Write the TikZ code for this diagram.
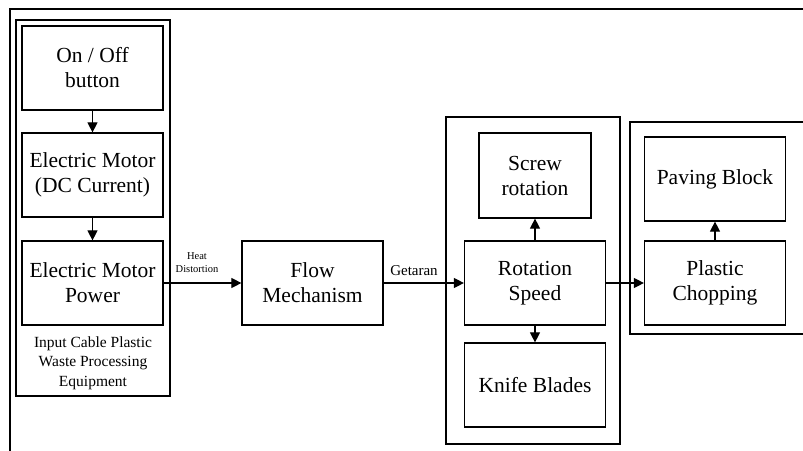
\documentclass[tikz,border=0pt]{standalone}
\usepackage{fontspec}
\setmainfont{Liberation Serif}
\usetikzlibrary{arrows.meta}
\begin{document}
\begin{tikzpicture}[x=1pt,y=-1pt,
  box/.style={draw,line width=1.2pt,inner sep=0pt,align=center,
    font=\fontsize{21.5}{25}\selectfont,minimum width=141pt,minimum height=84pt},
  grp/.style={draw,line width=1.2pt,inner sep=0pt},
  frame/.style={line width=1.2pt},
  arr/.style={line width=1.1pt,-{Triangle[length=10pt,width=10pt]}},
  lbl/.style={inner sep=0pt,align=center}]
\useasboundingbox (0,0) rectangle (803,450);
\clip (0,0) rectangle (803,450);
% outer frame (partly outside the picture)
\draw[frame] (10,460) -- (10,9) -- (815,9);
% group boxes
\node[grp,minimum width=154pt,minimum height=376pt] (g1) at (93,208) {};
\node[grp,minimum width=174pt,minimum height=327pt] (g2) at (533,280.5) {};
\draw[frame] (815,122) -- (630,122) -- (630,334) -- (815,334);
% boxes
\node[box] (onoff) at (92.5,68) {On / Off\\button};
\node[box] (emdc) at (92.5,175) {Electric Motor\\(DC Current)};
\node[box] (emp) at (92.5,283) {Electric Motor\\Power};
\node[lbl,font=\fontsize{15.5}{19.5}\selectfont] (cap) at (93,363) {Input Cable Plastic\\Waste Processing\\Equipment};
\node[box] (flow) at (312.5,283) {Flow\\Mechanism};
\node[box,minimum width=112pt,minimum height=85pt] (screw) at (535,175.5) {Screw\\rotation};
\node[box] (rot) at (535,283) {Rotation\\Speed};
\node[box] (knife) at (535,385) {Knife Blades};
\node[box] (pave) at (715,179) {Paving Block};
\node[box] (chop) at (715,283) {Plastic\\Chopping};
% labels
\node[lbl,font=\fontsize{10.5}{13}\selectfont] (heat) at (197,263) {Heat\\Distortion};
\node[lbl,font=\fontsize{15}{18}\selectfont] (get) at (414,271) {Getaran};
% connectors
\draw[arr] (onoff) -- (emdc);
\draw[arr] (emdc) -- (emp);
\draw[arr] (emp) -- (flow);
\draw[arr] (flow) -- (rot);
\draw[arr] (rot) -- (screw);
\draw[arr] (rot) -- (knife);
\draw[arr] (rot) -- (chop);
\draw[arr] (chop) -- (pave);
\end{tikzpicture}
\end{document}
